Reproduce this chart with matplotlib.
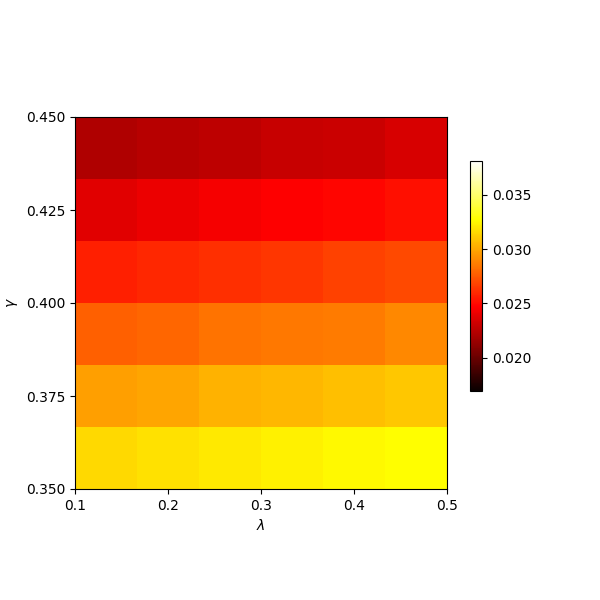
import matplotlib
matplotlib.use("Agg")
import matplotlib.pyplot as plt
import numpy as np

# parameter grid (cells span lambda 0.1-0.5, gamma 0.35-0.45)
lam_range = (0.1, 0.5)
gamma_range = (0.35, 0.45)
lam_ticks = [0.1, 0.2, 0.3, 0.4, 0.5]
gamma_ticks = [0.350, 0.375, 0.400, 0.425, 0.450]

# values per row, bottom (gamma=0.35) to top (gamma=0.45), left to right in lambda
row_1 = [0.03152, 0.03177, 0.03208, 0.03227, 0.03253, 0.03274]
row_2 = [0.02974, 0.02993, 0.03031, 0.03050, 0.03069, 0.03101]
row_3 = [0.02772, 0.02791, 0.02836, 0.02848, 0.02861, 0.02899]
row_4 = [0.02571, 0.02597, 0.02622, 0.02647, 0.02673, 0.02704]
row_5 = [0.02379, 0.02411, 0.02443, 0.02470, 0.02485, 0.02521]
row_6 = [0.02221, 0.02246, 0.02265, 0.02297, 0.02303, 0.02348]

v_min, v_max = 0.0170, 0.0381

values = np.array([row_1, row_2, row_3, row_4, row_5, row_6])

fig = plt.figure(figsize=(6, 6), dpi=100)
ax = fig.add_axes([0.125, 0.185, 0.62, 0.62])
cax = fig.add_axes([470 / 600, 0.349, 12 / 600, 0.383])

im = ax.imshow(
    values,
    cmap="hot",
    origin="lower",
    extent=[lam_range[0], lam_range[1], gamma_range[0], gamma_range[1]],
    aspect="auto",
    vmin=v_min,
    vmax=v_max,
    interpolation="nearest",
)
ax.set_xticks(lam_ticks)
ax.set_yticks(gamma_ticks)
ax.set_xlabel(r"$\lambda$")
ax.set_ylabel(r"$\gamma$")

cb = fig.colorbar(im, cax=cax)
cb.set_ticks([0.020, 0.025, 0.030, 0.035])

fig.savefig("out.png", dpi=100, facecolor="white")
plt.close(fig)
